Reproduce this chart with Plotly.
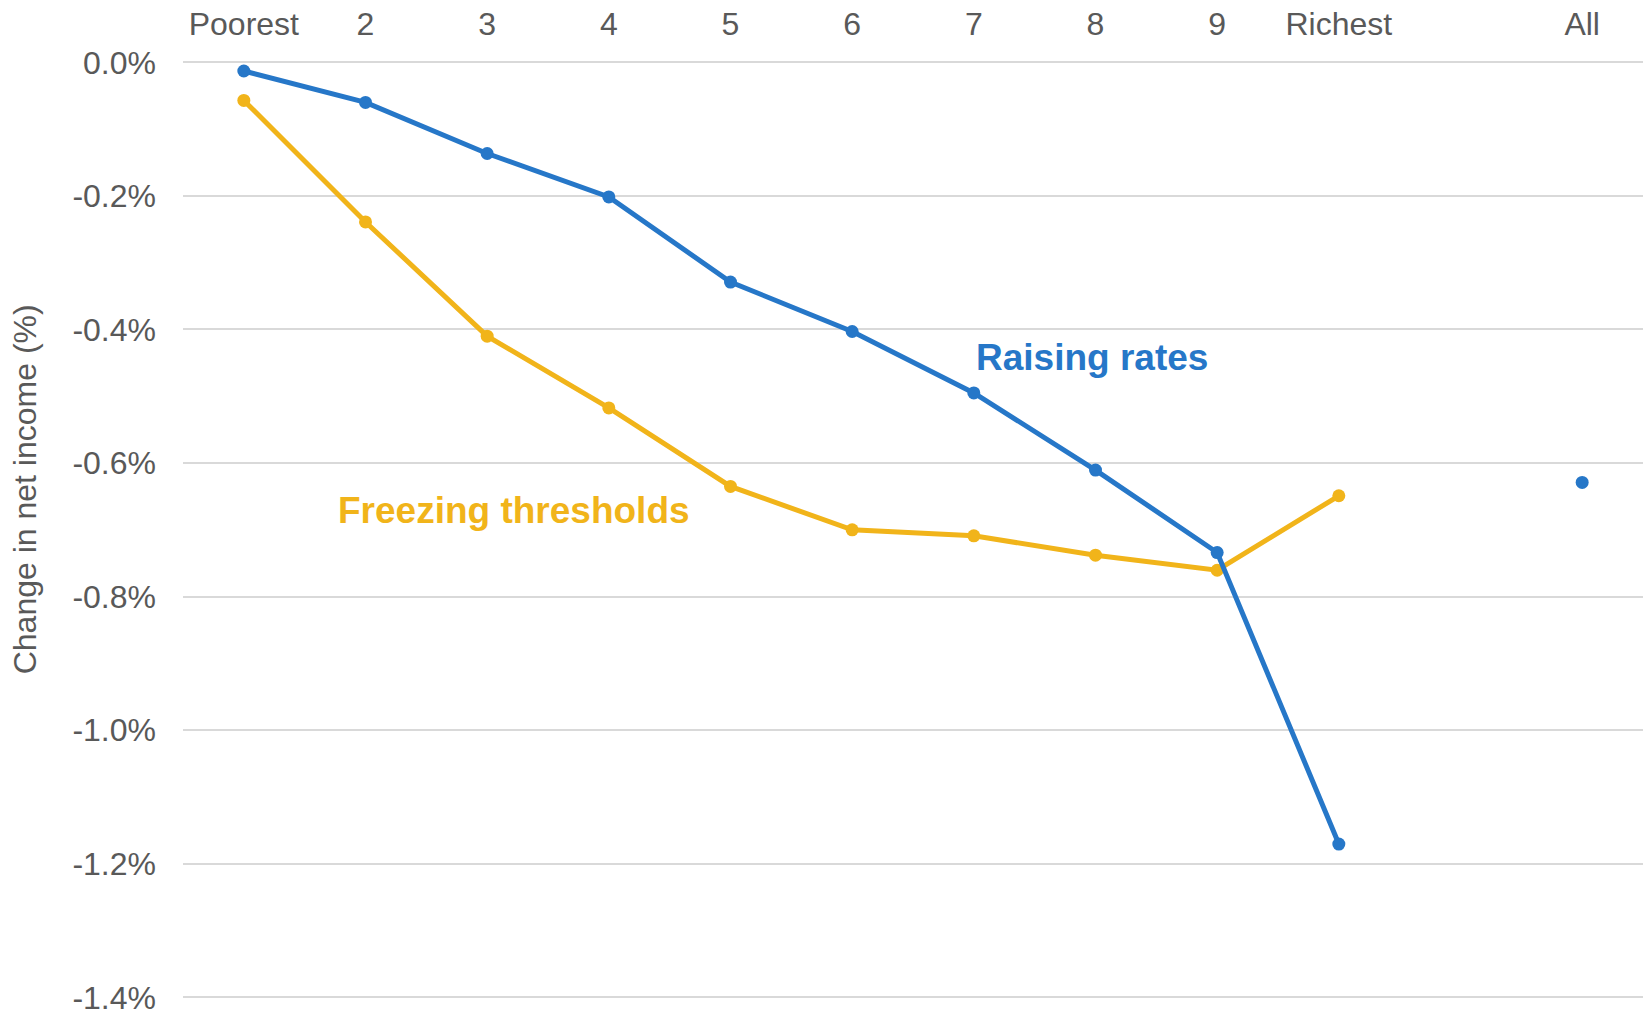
import plotly.graph_objects as go

# Income decile groups (blank slot separates the deciles from the overall figure)
groups = ["Poorest", "2", "3", "4", "5", "6", "7", "8", "9", "Richest", "", "All"]

# Change in net income (%) by decile
raising_rates = [-0.013, -0.060, -0.1365, -0.2015, -0.329, -0.403, -0.495, -0.6105, -0.734, -1.1705, None, -0.629]
freezing_thresholds = [-0.057, -0.239, -0.410, -0.5175, -0.635, -0.700, -0.709, -0.738, -0.7605, -0.649, None, None]

y_ticks = [0.0, -0.2, -0.4, -0.6, -0.8, -1.0, -1.2, -1.4]

BLUE = "#2677C8"
GOLD = "#F1B41A"
GREY = "#595959"
FONT = "Liberation Sans, Arial, sans-serif"

x_pos = list(range(len(groups)))

fig = go.Figure()
fig.add_trace(go.Scatter(
    x=x_pos, y=freezing_thresholds, mode="lines+markers",
    line=dict(color=GOLD, width=5), marker=dict(color=GOLD, size=13),
    connectgaps=False, showlegend=False,
))
fig.add_trace(go.Scatter(
    x=x_pos, y=raising_rates, mode="lines+markers",
    line=dict(color=BLUE, width=5), marker=dict(color=BLUE, size=13),
    connectgaps=False, showlegend=False,
))

fig.add_annotation(x=6.97, y=-0.4417, text="<b>Raising rates</b>", showarrow=False,
                   font=dict(family=FONT, size=37, color=BLUE), xanchor="center", yanchor="middle")
fig.add_annotation(x=2.22, y=-0.671, text="<b>Freezing thresholds</b>", showarrow=False,
                   font=dict(family=FONT, size=37, color=GOLD), xanchor="center", yanchor="middle")

# Vertical axis title
fig.add_annotation(xref="paper", yref="paper", x=-0.108, y=0.545, text="Change in net income (%)",
                   textangle=-90, showarrow=False, xanchor="center", yanchor="middle",
                   font=dict(family=FONT, size=32, color=GREY))

fig.update_layout(
    width=1643, height=1011,
    margin=dict(l=183, r=0, t=59, b=7),
    paper_bgcolor="white", plot_bgcolor="white",
    font=dict(family=FONT, size=32, color=GREY),
    xaxis=dict(
        side="top", range=[-0.5, 11.5], automargin=False,
        tickmode="array", tickvals=x_pos, ticktext=groups,
        showgrid=False, zeroline=False, showline=False, ticks="",
        ticklabelstandoff=17,
        ticklabeloverflow="allow",
        tickfont=dict(family=FONT, size=32, color=GREY),
    ),
    yaxis=dict(
        range=[-1.41, 0.005], automargin=False,
        tickmode="array", tickvals=y_ticks,
        ticktext=[f"{v:.1f}%" for v in y_ticks],
        showgrid=True, gridcolor="#D9D9D9", gridwidth=2,
        zeroline=False, showline=False, ticks="",
        ticklabelstandoff=26,
        ticklabeloverflow="allow",
        tickfont=dict(family=FONT, size=32, color=GREY),
    ),
)

fig.write_html("out.html")
